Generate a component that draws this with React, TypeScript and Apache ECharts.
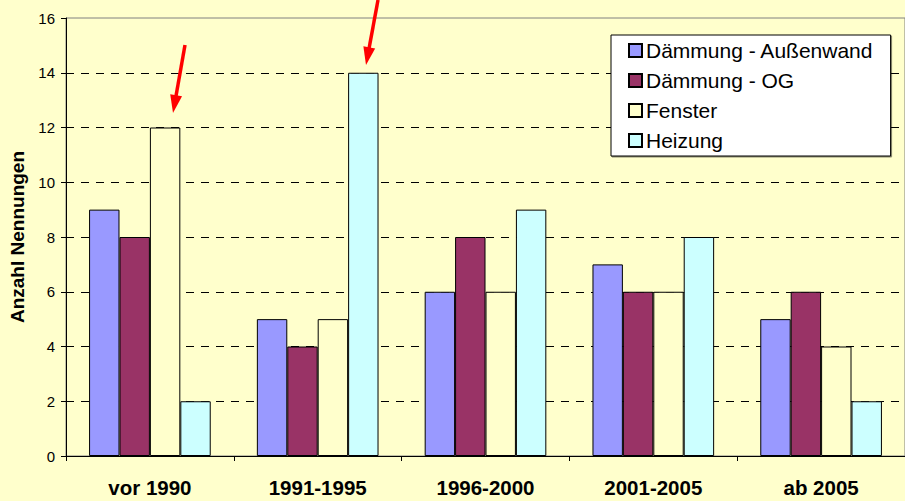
import React, { useEffect, useRef } from "react";
import * as echarts from "echarts";

const categories = ["vor 1990", "1991-1995", "1996-2000", "2001-2005", "ab 2005"];
const seriesNames = ["Dämmung - Außenwand", "Dämmung - OG", "Fenster", "Heizung"];
const aussenwand = [9, 5, 6, 7, 5];
const og = [8, 4, 8, 6, 6];
const fenster = [12, 5, 6, 6, 4];
const heizung = [2, 14, 9, 8, 2];
const seriesColors = ["#9999FF", "#993366", "#FFFFCC", "#CCFFFF"];
const yAxisName = "Anzahl Nennungen";

const FONT = "'Liberation Sans', Arial, Helvetica, sans-serif";

function arrow(x1: number, y1: number, tx: number, ty: number) {
  const dx = tx - x1;
  const dy = ty - y1;
  const len = Math.sqrt(dx * dx + dy * dy);
  const ux = dx / len;
  const uy = dy / len;
  const px = -uy;
  const py = ux;
  const headLen = 18;
  const halfW = 6;
  const bx = tx - ux * headLen;
  const by = ty - uy * headLen;
  return [
    {
      type: "line",
      shape: { x1, y1, x2: bx + ux * 2, y2: by + uy * 2 },
      style: { stroke: "#FF0000", lineWidth: 3.5 },
      silent: true,
      z: 100,
    },
    {
      type: "polygon",
      shape: {
        points: [
          [tx, ty],
          [bx + px * halfW, by + py * halfW],
          [bx - px * halfW, by - py * halfW],
        ],
      },
      style: { fill: "#FF0000", stroke: "none" },
      silent: true,
      z: 100,
    },
  ];
}

export default function App() {
  const ref = useRef<HTMLDivElement>(null);
  useEffect(() => {
    if (!ref.current) return;
    const chart = echarts.init(ref.current, undefined, { renderer: "svg" });
    const data = [aussenwand, og, fenster, heizung];
    chart.setOption({
      animation: false,
      backgroundColor: "#FFFFCC",
      textStyle: { fontFamily: FONT },
      grid: {
        left: 65,
        top: 18,
        width: 846.5,
        height: 438,
        show: true,
        backgroundColor: "#FFFFCC",
        borderColor: "#808080",
        borderWidth: 1,
      },
      legend: {
        orient: "vertical",
        left: 611,
        top: 35,
        data: seriesNames,
        icon: "rect",
        itemWidth: 13,
        itemHeight: 13,
        itemGap: 9,
        padding: [5, 17, 5, 17],
        backgroundColor: "#FFFFFF",
        borderColor: "#000000",
        borderWidth: 1,
        shadowColor: "rgba(0,0,0,0.45)",
        shadowOffsetX: 1,
        shadowOffsetY: 1,
        shadowBlur: 0,
        textStyle: { fontSize: 21, color: "#000", fontFamily: FONT, padding: [0, 0, 0, -1] },
      },
      xAxis: {
        type: "category",
        data: categories,
        axisLine: { lineStyle: { color: "#000", width: 1 } },
        axisTick: { show: true, length: 5, lineStyle: { color: "#000" } },
        axisLabel: {
          fontSize: 20.5,
          fontWeight: "bold",
          color: "#000",
          margin: 21,
          fontFamily: FONT,
        },
      },
      yAxis: {
        type: "value",
        min: 0,
        max: 16,
        interval: 2,
        name: yAxisName,
        nameLocation: "middle",
        nameGap: 39,
        nameTextStyle: { fontSize: 19, fontWeight: "bold", color: "#000", fontFamily: FONT },
        axisLine: { show: true, lineStyle: { color: "#000", width: 1 } },
        axisTick: { show: true, length: 5, lineStyle: { color: "#000" } },
        axisLabel: { fontSize: 15, color: "#000", margin: 11, fontFamily: FONT },
        splitLine: {
          show: true,
          lineStyle: {
            color: ["transparent", "#000", "#000", "#000", "#000", "#000", "#000", "#000", "transparent"],
            type: [8, 7],
            width: 1,
          },
        },
      },
      series: seriesNames.map((name, i) => ({
        name,
        type: "bar",
        data: data[i],
        barGap: "0%",
        barCategoryGap: "27.5%",
        itemStyle: { color: seriesColors[i], borderColor: "#000", borderWidth: 1 },
      })),
      graphic: [...arrow(185, 45, 173, 113), ...arrow(378, 0, 366, 65)],
    });
    return () => chart.dispose();
  }, []);
  return (
    <div
      ref={ref}
      style={{ position: "fixed", left: 0, top: 0, width: 905, height: 501, background: "#FFFFCC" }}
    />
  );
}
